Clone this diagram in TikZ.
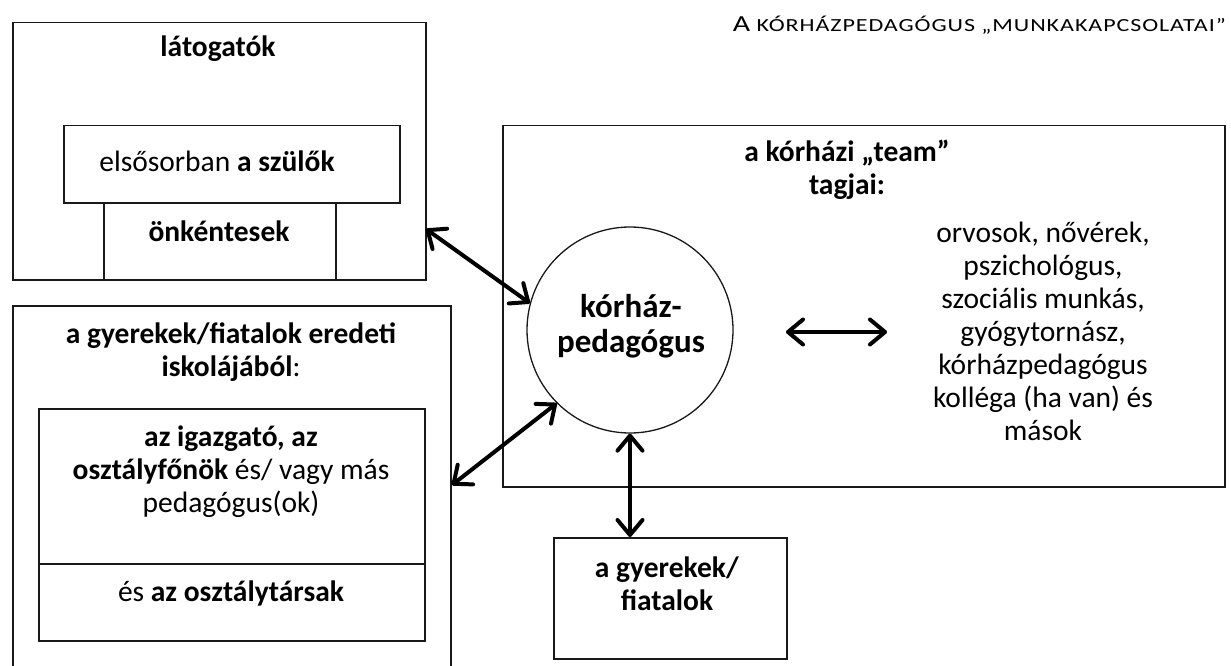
\documentclass[tikz,border=0pt]{standalone}
\usepackage{fontspec}
\setmainfont{Carlito}
\newfontfamily\titlefont[FakeStretch=1.3, LetterSpace=5]{Carlito}
\usetikzlibrary{arrows.meta}
\begin{document}
\begin{tikzpicture}[x=1pt,y=-1pt,
  frame/.style={draw=black!90, line width=1.5pt, inner sep=0pt, anchor=north west},
  txt/.style={align=center, font=\fontsize{29.5}{33}\selectfont, inner sep=0pt},
  barb/.tip={Straight Barb[length=15pt,width=25pt,line cap=round,line join=round]},
  link/.style={line width=4pt, barb-barb},
]
\useasboundingbox (0,0) rectangle (1231,666);
% title
\node[anchor=east, inner sep=0pt] (title) at (1226,25)
  {\titlefont\fontsize{23}{26}\selectfont A\fontsize{18.5}{22}\selectfont\ KÓRHÁZPEDAGÓGUS „MUNKAKAPCSOLATAI”};
% visitors
\node[frame, minimum width=413pt, minimum height=257pt] (vis) at (12,22) {};
\node[frame, minimum width=336pt, minimum height=77pt] (par) at (63,125) {};
\node[frame, minimum width=232pt, minimum height=77pt] (vol) at (103,202) {};
\node[txt] (visT) at (218,49) {\bfseries látogatók};
\node[txt] (parT) at (217,161) {elsősorban \textbf{a szülők}};
\node[txt] (volT) at (219,231) {\bfseries önkéntesek};
% school
\node[frame, minimum width=438pt, minimum height=380pt] (sch) at (12,305) {};
\node[frame, minimum width=386pt, minimum height=155pt] (tea) at (38,408) {};
\node[frame, minimum width=386pt, minimum height=77pt] (cla) at (38,563) {};
\node[txt] (schT) at (231,352) {\textbf{a gyerekek/fiatalok eredeti}\\\textbf{iskolájából}:};
\node[txt] (teaT) at (231,472) {\textbf{az igazgató, az}\\\textbf{osztályfőnök} és/ vagy más\\pedagógus(ok)};
\node[txt] (claT) at (231,593) {és \textbf{az osztálytársak}};
% team
\node[frame, minimum width=722pt, minimum height=361pt] (team) at (502,125) {};
\node[txt] (teamT) at (847,170) {\textbf{a kórházi „team”}\\\textbf{tagjai:}};
\node[txt] (memT) at (1043,331) {orvosok, nővérek,\\pszichológus,\\szociális munkás,\\gyógytornász,\\kórházpedagógus\\kolléga (ha van) és\\mások};
% hospital pedagogue
\node[circle, draw=black!90, line width=1.3pt, fill=white, minimum size=206pt, inner sep=0pt] (ped) at (630,330) {};
\node[txt, font=\fontsize{33}{35}\selectfont] (pedT) at (631,326) {\textbf{kórház-}\\\textbf{pedagógus}};
% kids
\node[frame, minimum width=233pt, minimum height=121pt] (kids) at (553,537) {};
\node[txt] (kidsT) at (667,584) {\textbf{a gyerekek/}\\\textbf{fiatalok}};
% connectors
\coordinate (v1) at (426,229);
\coordinate (s1) at (452,485);
\coordinate (h1) at (786,332);
\coordinate (h2) at (887,332);
\draw[link] (v1) -- (ped.165);
\draw[link] (s1) -- (ped.225);
\draw[link] (ped.south) -- (ped.south |- kids.north);
\draw[link] (h1) -- (h2);
\end{tikzpicture}
\end{document}
